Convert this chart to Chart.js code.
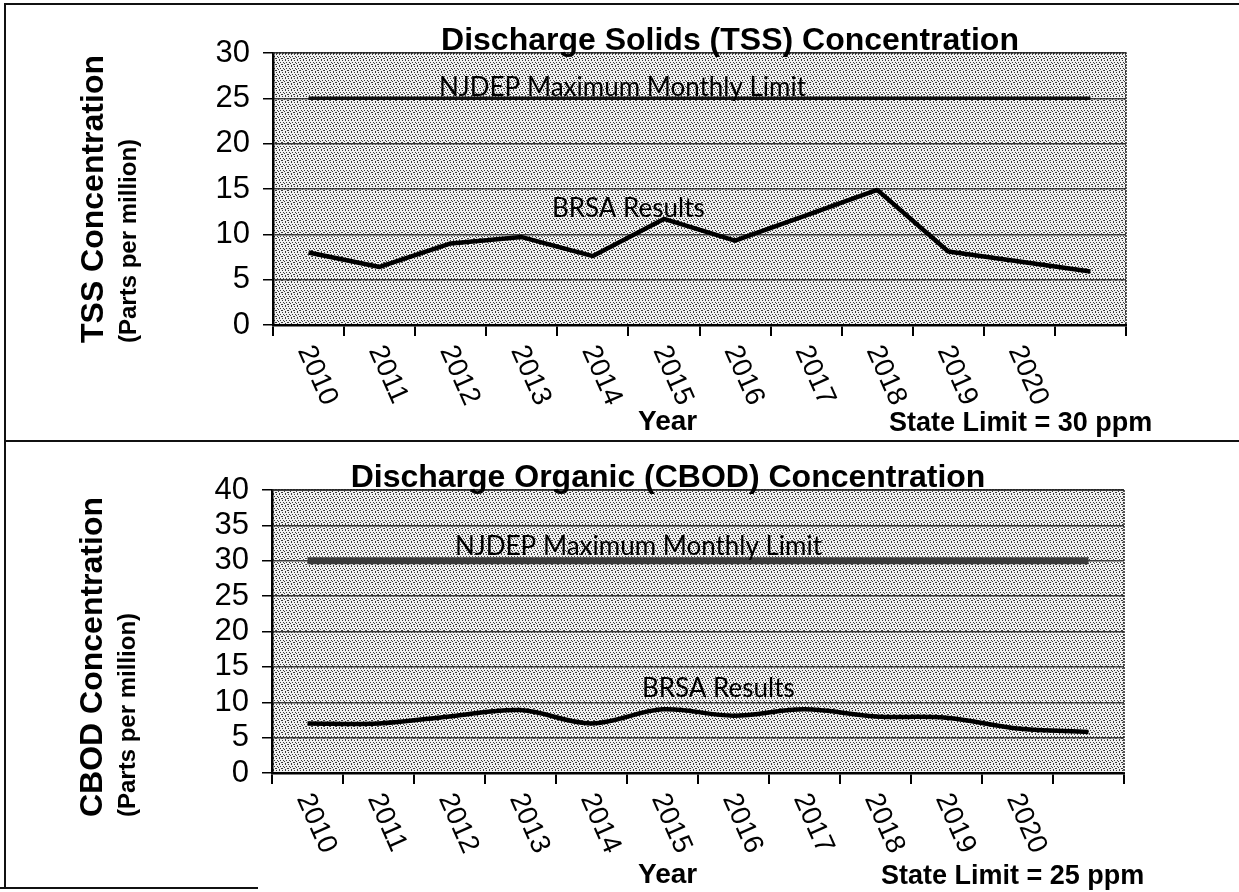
<!DOCTYPE html>
<html>
<head>
<meta charset="utf-8">
<script src="https://cdn.jsdelivr.net/npm/chart.js@4.4.0/dist/chart.umd.min.js"></script>
<style>
  body { margin: 0; background: #fff; width: 1239px; height: 892px; position: relative; overflow: hidden; }
  canvas { position: absolute; left: 0; }
  #tss { top: 0; }
  #cbod { top: 440px; }
  .rule { position: absolute; background: #111; }
</style>
</head>
<body>
<canvas id="tss" width="1239" height="440"></canvas>
<canvas id="cbod" width="1239" height="452"></canvas>
<div class="rule" style="left:4px;top:3px;width:2px;height:886px"></div>
<div class="rule" style="left:4px;top:3px;width:1235px;height:2px"></div>
<div class="rule" style="left:4px;top:440px;width:1235px;height:2px"></div>
<div class="rule" style="left:0;top:887px;width:258px;height:2px"></div>
<script>
// years on the x axis, last slot has no label
const years = ['2010', '2011', '2012', '2013', '2014', '2015', '2016', '2017', '2018', '2019', '2020', ''];

const tssResults = [8.0, 6.4, 9.0, 9.7, 7.6, 11.7, 9.3, 12.1, 14.9, 8.1, 7.0, 5.9];
const tssLimit = [25, 25, 25, 25, 25, 25, 25, 25, 25, 25, 25, 25];
const tssTicks = [0, 5, 10, 15, 20, 25, 30];

const cbodResults = [7.0, 7.0, 8.0, 8.9, 7.0, 9.0, 8.1, 9.0, 8.0, 7.8, 6.3, 5.8];
const cbodLimit = [30, 30, 30, 30, 30, 30, 30, 30, 30, 30, 30, 30];
const cbodTicks = [0, 5, 10, 15, 20, 25, 30, 35, 40];

const SANS = '"Liberation Sans", Arial, sans-serif';
const NOTE = 'Lato, "Open Sans", sans-serif';

function stipple(ctx) {
    let c = document.createElement('canvas');
    c.width = 6; c.height = 6;
    let g = c.getContext('2d');
    g.fillStyle = '#f0f0f0';
    g.fillRect(0, 0, 6, 6);
    g.fillStyle = '#3a3a3a';
    [[0, 0], [3, 0], [1, 2], [4, 2], [0, 4], [2, 3], [5, 4], [3, 5]].forEach(p => g.fillRect(p[0], p[1], 1, 1));
    return ctx.createPattern(c, 'repeat');
}

const decor = {
    id: 'decor',
    beforeDraw(chart) {
        let a = chart.chartArea, ctx = chart.ctx;
        ctx.save();
        ctx.fillStyle = stipple(ctx);
        ctx.fillRect(a.left, a.top, a.right - a.left, a.bottom - a.top);
        ctx.restore();
    },
    afterDraw(chart, args, o) {
        let ctx = chart.ctx, a = chart.chartArea;
        let x = chart.scales.x, y = chart.scales.y;
        ctx.save();

        // dotted top / right edge of the plot
        ctx.strokeStyle = '#222';
        ctx.lineWidth = 1.5;
        ctx.setLineDash([2, 1]);
        ctx.beginPath();
        ctx.moveTo(a.left, a.top);
        ctx.lineTo(a.right, a.top);
        ctx.lineTo(a.right, a.bottom);
        ctx.stroke();
        ctx.setLineDash([]);

        ctx.fillStyle = '#000';
        ctx.textBaseline = 'alphabetic';

        // title
        ctx.font = 'bold 32px ' + SANS;
        ctx.textAlign = 'center';
        ctx.fillText(o.title, o.titleX, o.titleY);

        // rotated axis titles
        ctx.textAlign = 'left';
        ctx.textBaseline = 'middle';
        ctx.save();
        ctx.translate(o.axisX, o.axisStart);
        ctx.rotate(-Math.PI / 2);
        ctx.font = 'bold 32px ' + SANS;
        ctx.fillText(o.axisTitle, 0, 0);
        ctx.restore();
        ctx.save();
        ctx.translate(o.axisX + 35, o.axisStart);
        ctx.rotate(-Math.PI / 2);
        ctx.font = 'bold 24px ' + SANS;
        ctx.fillText('(Parts per million)', 0, 0);
        ctx.restore();

        // x labels slanting down to the right
        ctx.font = '28px ' + SANS;
        chart.data.labels.forEach((lab, i) => {
            if (!lab) return;
            ctx.save();
            ctx.translate(x.getPixelForValue(i) - 4, a.bottom + o.labelGap);
            ctx.rotate(66 * Math.PI / 180);
            ctx.fillText(lab, 0, 0);
            ctx.restore();
        });

        // notes inside the plot
        ctx.textBaseline = 'alphabetic';
        ctx.font = '26px ' + NOTE;
        o.notes.forEach(n => ctx.fillText(n.text, n.x, y.getPixelForValue(n.value)));

        ctx.font = 'bold 28px ' + SANS;
        ctx.fillText('Year', 638, o.footY);
        ctx.font = 'bold 27px ' + SANS;
        ctx.fillText(o.state, o.stateX, o.footY + 1);

        ctx.restore();
    }
};

function buildChart(id, o) {
    let ticks = o.ticks;
    return new Chart(document.getElementById(id), {
        type: 'line',
        data: {
            labels: years,
            datasets: [
                { data: o.limit, borderColor: o.limitColor, borderWidth: o.limitWidth, pointRadius: 0, tension: 0 },
                { data: o.results, borderColor: '#000', borderWidth: 4.5, pointRadius: 0, tension: o.tension, borderJoinStyle: 'round' }
            ]
        },
        options: {
            responsive: false,
            animation: false,
            devicePixelRatio: 1,
            layout: { padding: { top: o.top, right: o.right, left: 0, bottom: 0 } },
            plugins: {
                legend: { display: false },
                tooltip: { enabled: false },
                decor: o.decor
            },
            scales: {
                x: {
                    offset: true,
                    grid: { offset: true, drawOnChartArea: false, tickLength: 11, color: '#000', lineWidth: 2 },
                    border: { color: '#000', width: 2.5 },
                    ticks: { display: false },
                    afterFit: s => { s.height = o.xHeight; }
                },
                y: {
                    min: 0,
                    max: ticks[ticks.length - 1],
                    afterBuildTicks: s => { s.ticks = ticks.map(v => ({ value: v })); },
                    grid: { color: '#3a3a3a', lineWidth: 1.5, tickLength: 10, tickColor: '#000' },
                    border: { color: '#000', width: 2.5 },
                    ticks: { color: '#000', padding: 13, autoSkip: false, font: { family: SANS, size: 31 } },
                    afterFit: s => { s.width = o.yWidth; }
                }
            }
        },
        plugins: [decor]
    });
}

buildChart('tss', {
    results: tssResults, limit: tssLimit, ticks: tssTicks,
    limitColor: '#111', limitWidth: 3.5, tension: 0,
    top: 53, right: 113, xHeight: 115, yWidth: 273,
    decor: {
        title: 'Discharge Solids (TSS) Concentration', titleX: 730, titleY: 50,
        axisTitle: 'TSS Concentration', axisX: 94, axisStart: 343,
        labelGap: 22, footY: 430, state: 'State Limit = 30 ppm', stateX: 889,
        notes: [
            { text: 'NJDEP Maximum Monthly Limit', x: 439, value: 25.3 },
            { text: 'BRSA Results', x: 552, value: 11.9 }
        ]
    }
});

buildChart('cbod', {
    results: cbodResults, limit: cbodLimit, ticks: cbodTicks,
    limitColor: '#3a3a3a', limitWidth: 7, tension: 0.35,
    top: 50, right: 115, xHeight: 119, yWidth: 272,
    decor: {
        title: 'Discharge Organic (CBOD) Concentration', titleX: 668, titleY: 47,
        axisTitle: 'CBOD Concentration', axisX: 93, axisStart: 377,
        labelGap: 22, footY: 443, state: 'State Limit = 25 ppm', stateX: 881,
        notes: [
            { text: 'NJDEP Maximum Monthly Limit', x: 455, value: 30.8 },
            { text: 'BRSA Results', x: 642, value: 10.7 }
        ]
    }
});
</script>
</body>
</html>
